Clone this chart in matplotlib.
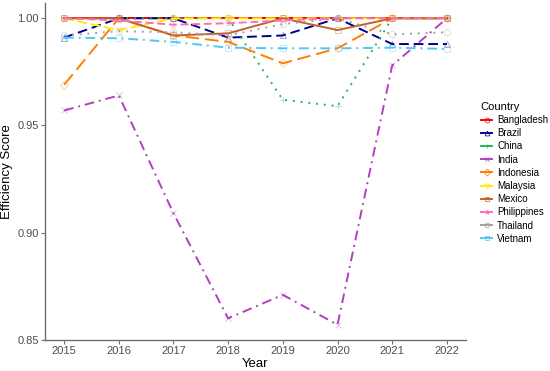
import matplotlib
matplotlib.use("Agg")
import matplotlib.pyplot as plt
from matplotlib.lines import Line2D

plt.rcParams['font.family'] = ['Liberation Sans', 'DejaVu Sans']

# data
years = [2015, 2016, 2017, 2018, 2019, 2020, 2021, 2022]
countries = ['Bangladesh', 'Brazil', 'China', 'India', 'Indonesia',
             'Malaysia', 'Mexico', 'Philippines', 'Thailand', 'Vietnam']

bangladesh = [1.000, 1.000, 1.000, 1.000, 1.000, 1.000, 1.000, 1.000]
brazil = [0.991, 1.000, 1.000, 0.991, 0.992, 1.000, 0.988, 0.988]
china = [1.000, 1.000, 1.000, 1.000, 0.962, 0.959, 1.000, 1.000]
india = [0.957, 0.964, 0.909, 0.860, 0.871, 0.857, 0.978, 1.000]
indonesia = [0.969, 1.000, 0.992, 0.989, 0.979, 0.986, 1.000, 1.000]
malaysia = [1.000, 0.9945, 1.000, 1.000, 1.000, 1.000, 1.000, 1.000]
mexico = [1.000, 1.000, 0.992, 0.993, 1.000, 0.9945, 1.000, 1.000]
philippines = [1.000, 0.999, 0.997, 0.9977, 0.999, 1.000, 1.000, 1.000]
thailand = [0.992, 0.994, 0.9935, 0.992, 0.9973, 1.000, 0.9925, 0.9935]
vietnam = [0.991, 0.9907, 0.989, 0.9863, 0.986, 0.986, 0.9863, 0.9857]

series = [bangladesh, brazil, china, india, indonesia,
          malaysia, mexico, philippines, thailand, vietnam]

colors = ['#FF0000', '#00008B', '#1DB954', '#B23FC0', '#FF7F00',
          '#FFEE00', '#C0622C', '#FF6EB4', '#A0A0A0', '#4CC8F4']
styles = ['-', (0, (5, 2.5)), (0, (1, 3)), (0, (5, 2.5, 1, 2.5)), (0, (7, 3)),
          (0, (5, 2)), '-', (0, (4, 2)), (0, (1, 3)), (0, (5, 2.5, 1, 2.5))]
markers = ['o', '^', '+', 'x', 'D', 'v', 's', '*', 'o', 's']

fig = plt.figure(figsize=(5.5, 3.71), dpi=100)
ax = fig.add_axes([45/550, 31/371, 421/550, 337/371])

handles = []
for name, vals, c, ls, mk in zip(countries, series, colors, styles, markers):
    ax.plot(years, vals, color=c, linestyle=ls, linewidth=1.4)
    ax.plot(years, vals, linestyle='none', marker=mk, markersize=4.5,
            markerfacecolor='none', markeredgecolor=c, markeredgewidth=0.7,
            alpha=0.35)
    handles.append(Line2D([0], [0], color=c, linestyle='-', linewidth=1.4,
                          marker=mk, markersize=3.5, markerfacecolor='none',
                          markeredgecolor=c, markeredgewidth=0.5))

ax.set_xlim(2014.65, 2022.35)
ax.set_ylim(0.8499, 1.00715)
ax.set_xticks(years)
ax.set_yticks([0.85, 0.90, 0.95, 1.00])
ax.set_yticklabels(['0.85', '0.90', '0.95', '1.00'])

for s in ['top', 'right']:
    ax.spines[s].set_visible(False)
for s in ['left', 'bottom']:
    ax.spines[s].set_color('#6E6E6E')
    ax.spines[s].set_linewidth(1.0)
ax.tick_params(axis='both', colors='#6E6E6E', length=3, width=0.8,
               labelsize=8, labelcolor='#4D4D4D', pad=1.5)

ax.set_xlabel('Year', fontsize=9.5, labelpad=1)
ax.set_ylabel('Efficiency Score', fontsize=9.5, labelpad=3)

fig.legend(handles, countries, title='Country', loc='upper left',
           bbox_to_anchor=(472/550, 1 - 93/371), frameon=False,
           fontsize=7, title_fontsize=8, handlelength=1.2,
           handletextpad=0.5, labelspacing=0.33, alignment='left')

fig.savefig('out.png', dpi=100)
